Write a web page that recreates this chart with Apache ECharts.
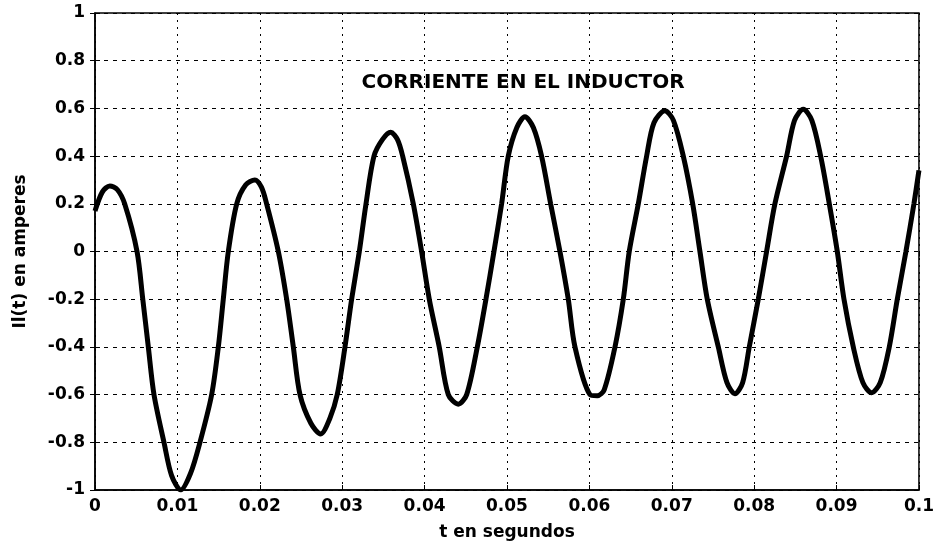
<!DOCTYPE html>
<html>
<head>
<meta charset="utf-8">
<script src="https://cdn.jsdelivr.net/npm/echarts@6/dist/echarts.min.js"></script>
<style>html,body{margin:0;padding:0;background:#fff;}#c{width:937px;height:546px;}</style>
</head>
<body>
<div id="c"></div>
<script>
// time values (s)
const tValues = [0, 0.0009, 0.0018, 0.0027, 0.0036, 0.0051, 0.0058, 0.00647, 0.00716, 0.00837, 0.0093, 0.0104, 0.0116, 0.01274, 0.01416, 0.01497, 0.01557, 0.01618, 0.0172, 0.0183, 0.0194, 0.0202, 0.02083, 0.02225, 0.02326, 0.02407, 0.02488, 0.0262, 0.02739, 0.0285, 0.0294, 0.03034, 0.03115, 0.03208, 0.03289, 0.03386, 0.0349, 0.03588, 0.0367, 0.03734, 0.03863, 0.03964, 0.04057, 0.04178, 0.04288, 0.04409, 0.04511, 0.0464, 0.04745, 0.04842, 0.04935, 0.05016, 0.0512, 0.05218, 0.0532, 0.0542, 0.0553, 0.05643, 0.05744, 0.05825, 0.06007, 0.06096, 0.0618, 0.06311, 0.06412, 0.06484, 0.06594, 0.06695, 0.06784, 0.06917, 0.0702, 0.0714, 0.07254, 0.07342, 0.07431, 0.07565, 0.0767, 0.07767, 0.0786, 0.07941, 0.0805, 0.08151, 0.08252, 0.08394, 0.0849, 0.08596, 0.087, 0.08807, 0.08912, 0.09009, 0.0909, 0.09203, 0.0932, 0.09426, 0.0953, 0.0964, 0.09737, 0.09842, 0.09939, 0.1];
// inductor current (A)
const iValues = [0.17, 0.25, 0.275, 0.26, 0.2, 0, -0.2, -0.4, -0.6, -0.8, -0.94, -1.0, -0.93, -0.8, -0.6, -0.4, -0.2, 0, 0.2, 0.28, 0.3, 0.27, 0.2, 0, -0.2, -0.4, -0.6, -0.72, -0.765, -0.7, -0.6, -0.4, -0.2, 0, 0.2, 0.4, 0.47, 0.5, 0.47, 0.4, 0.2, 0, -0.2, -0.4, -0.6, -0.64, -0.6, -0.4, -0.2, 0, 0.2, 0.4, 0.52, 0.565, 0.52, 0.4, 0.2, 0, -0.2, -0.4, -0.6, -0.605, -0.58, -0.4, -0.2, 0, 0.2, 0.4, 0.54, 0.59, 0.55, 0.4, 0.2, 0, -0.2, -0.4, -0.55, -0.596, -0.55, -0.4, -0.2, 0, 0.2, 0.4, 0.55, 0.596, 0.55, 0.4, 0.2, 0, -0.2, -0.4, -0.55, -0.592, -0.55, -0.4, -0.2, 0, 0.2, 0.34];
const xTickLabels = ['0','0.01','0.02','0.03','0.04','0.05','0.06','0.07','0.08','0.09','0.1'];
const yTickLabels = ['-1','-0.8','-0.6','-0.4','-0.2','0','0.2','0.4','0.6','0.8','1'];
const titleText = 'CORRIENTE EN EL INDUCTOR';
const xName = 't en segundos';
const yName = 'Il(t) en amperes';

const data = tValues.map((t, i) => [t, iValues[i]]);
const FONT = 'DejaVu Sans';
const chart = echarts.init(document.getElementById('c'));
const fmtX = v => { const i = Math.round(v / 0.01); return xTickLabels[i] !== undefined ? xTickLabels[i] : ''; };
const fmtY = v => { const i = Math.round((v + 1) / 0.2); return yTickLabels[i] !== undefined ? yTickLabels[i] : ''; };
const labelStyle = { color: '#000', fontFamily: FONT, fontWeight: 'bold', fontSize: 17 };
chart.setOption({
  backgroundColor: '#fff',
  animation: false,
  title: {
    text: titleText, left: 518, top: 68, textAlign: 'center',
    textStyle: { color: '#000', fontFamily: FONT, fontWeight: 'bold', fontSize: 20 }
  },
  grid: { left: 95, right: 18, top: 13, bottom: 54, show: true, borderColor: '#000', borderWidth: 1.5 },
  xAxis: [{
    type: 'value', min: 0, max: 0.1, interval: 0.01,
    name: xName, nameLocation: 'middle', nameGap: 34,
    nameTextStyle: { color: '#000', fontFamily: FONT, fontWeight: 'bold', fontSize: 17 },
    axisLine: { onZero: false, lineStyle: { color: '#000', width: 1.5 } },
    axisTick: { inside: true, length: 5, lineStyle: { color: '#000' } },
    axisLabel: Object.assign({ margin: 8, formatter: fmtX }, labelStyle),
    splitLine: { show: true, lineStyle: { color: '#000', type: [2, 5], width: 1 } }
  }, {
    type: 'value', min: 0, max: 0.1, interval: 0.01, position: 'top',
    axisLine: { show: false }, axisLabel: { show: false },
    axisTick: { inside: true, length: 5, lineStyle: { color: '#000' } },
    splitLine: { show: false }
  }],
  yAxis: [{
    type: 'value', min: -1, max: 1, interval: 0.2,
    name: yName, nameLocation: 'middle', nameGap: 66, nameRotate: 90,
    nameTextStyle: { color: '#000', fontFamily: FONT, fontWeight: 'bold', fontSize: 17 },
    axisLine: { show: true, lineStyle: { color: '#000', width: 1.5 } },
    axisTick: { show: true, inside: true, length: 5, lineStyle: { color: '#000' } },
    axisLabel: Object.assign({ margin: 10, formatter: fmtY }, labelStyle),
    splitLine: { show: true, lineStyle: { color: '#000', type: [4, 5], width: 1 } }
  }, {
    type: 'value', min: -1, max: 1, interval: 0.2, position: 'right',
    axisLine: { show: false }, axisLabel: { show: false },
    axisTick: { show: true, inside: true, length: 5, lineStyle: { color: '#000' } },
    splitLine: { show: false }
  }],
  series: [{
    type: 'line', data: data, showSymbol: false, smooth: 0.3,
    lineStyle: { color: '#000', width: 5 }, clip: true
  }]
});
</script>
</body>
</html>
